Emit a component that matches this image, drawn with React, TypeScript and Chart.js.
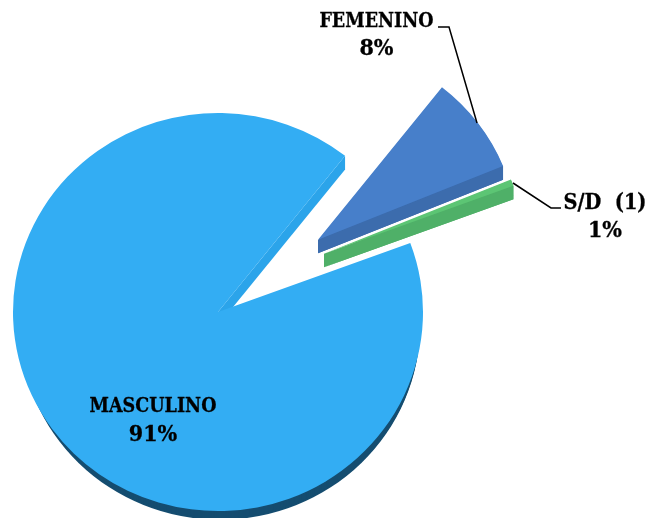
import React, { useEffect, useRef } from "react";
import { Chart, registerables } from "chart.js";

Chart.register(...registerables);

const categories = ["MASCULINO", "FEMENINO", "S/D (1)"];
const seriesValues = [91.28, 8.17, 0.55];
const topColors = ["#33adf3", "#477fca", "#5cc574"];
const rimColors = ["#154d70", "#3c6cad", "#4fb068"];
const cutColors = ["#2ba4ea", "#3c6cad", "#4fb068"];
const shiftX = [0, 100, 106];
const shiftY = [0, -74.5, -60];
const radiusTrim = [0, 5, 3];
const rimInset = [5, 0, 0];
const rimShiftX = [2, 0, 0];

const DEPTH = 14;
const SQUASH = 0.971;
const CY = 312;
const FAMILY = "'DejaVu Serif Condensed', 'DejaVu Serif'";

const labels = [
  { lines: ["FEMENINO", "8%"], sizes: [19.5, 23], x: 376.5, y: [27, 55] },
  { lines: ["S/D  (1)", "1%"], sizes: [21.5, 23], x: 605, y: [209, 237] },
  { lines: ["MASCULINO", "91%"], sizes: [19.5, 23], x: 153, y: [412, 441] },
];
const leaders = [
  [[438, 27], [449, 27], [477, 123]],
  [[513, 183], [551, 208], [561, 208]],
];

const piePlugin = {
  id: "exploded3d",
  afterDatasetsUpdate(chart: any) {
    const arcs = chart.getDatasetMeta(0).data;
    arcs.forEach((a: any, i: number) => {
      a.x += shiftX[i];
      a.y += shiftY[i];
      a.outerRadius -= radiusTrim[i];
    });
  },
  beforeDatasetsDraw(chart: any) {
    const ctx = chart.ctx;
    ctx.save();
    ctx.translate(0, CY);
    ctx.scale(1, SQUASH);
    ctx.translate(0, -CY);
    const arcs = chart.getDatasetMeta(0).data;
    arcs.forEach((a: any, i: number) => {
      ctx.fillStyle = rimColors[i];
      const whole = a.endAngle - a.startAngle > Math.PI;
      for (let d = DEPTH; d >= 1; d--) {
        ctx.beginPath();
        if (whole) {
          // the large slice only shows its rim along the lower half of the circle
          ctx.arc(a.x + rimShiftX[i], a.y + d, a.outerRadius - rimInset[i], 0, Math.PI);
        } else {
          ctx.moveTo(a.x, a.y + d);
          ctx.arc(a.x, a.y + d, a.outerRadius - rimInset[i], a.startAngle, a.endAngle);
        }
        ctx.closePath();
        ctx.fill();
      }
      const ex = a.x + Math.cos(a.endAngle) * a.outerRadius;
      const ey = a.y + Math.sin(a.endAngle) * a.outerRadius;
      ctx.fillStyle = cutColors[i];
      ctx.beginPath();
      ctx.moveTo(a.x, a.y);
      ctx.lineTo(ex, ey);
      ctx.lineTo(ex, ey + DEPTH);
      ctx.lineTo(a.x, a.y + DEPTH);
      ctx.closePath();
      ctx.fill();
    });
  },
  afterDatasetsDraw(chart: any) {
    const ctx = chart.ctx;
    ctx.restore();
    ctx.save();
    ctx.strokeStyle = "#000";
    ctx.lineWidth = 1.5;
    leaders.forEach((pts) => {
      ctx.beginPath();
      pts.forEach((p, i) => (i ? ctx.lineTo(p[0], p[1]) : ctx.moveTo(p[0], p[1])));
      ctx.stroke();
    });
    ctx.fillStyle = "#000";
    ctx.lineWidth = 0.3;
    ctx.textAlign = "center";
    ctx.textBaseline = "alphabetic";
    labels.forEach((l) => {
      l.lines.forEach((t, i) => {
        ctx.font = `bold ${l.sizes[i]}px ${FAMILY}`;
        ctx.fillText(t, l.x, l.y[i]);
        ctx.strokeText(t, l.x, l.y[i]);
      });
    });
    ctx.restore();
  },
};

export default function App() {
  const ref = useRef<HTMLCanvasElement | null>(null);
  useEffect(() => {
    const chart = new Chart(ref.current as HTMLCanvasElement, {
      type: "pie",
      data: {
        labels: categories,
        datasets: [
          {
            data: seriesValues,
            backgroundColor: topColors,
            borderWidth: 0,
            radius: 205,
          } as any,
        ],
      },
      options: {
        animation: false,
        responsive: false,
        rotation: 69.7,
        layout: { padding: { left: 0, right: 211, top: 106, bottom: 0 } },
        plugins: { legend: { display: false }, tooltip: { enabled: false } },
        events: [],
      },
      plugins: [piePlugin],
    });
    return () => chart.destroy();
  }, []);
  return (
    <canvas
      ref={ref}
      width={647}
      height={518}
      style={{ position: "absolute", left: 0, top: 0, width: 647, height: 518 }}
    />
  );
}
